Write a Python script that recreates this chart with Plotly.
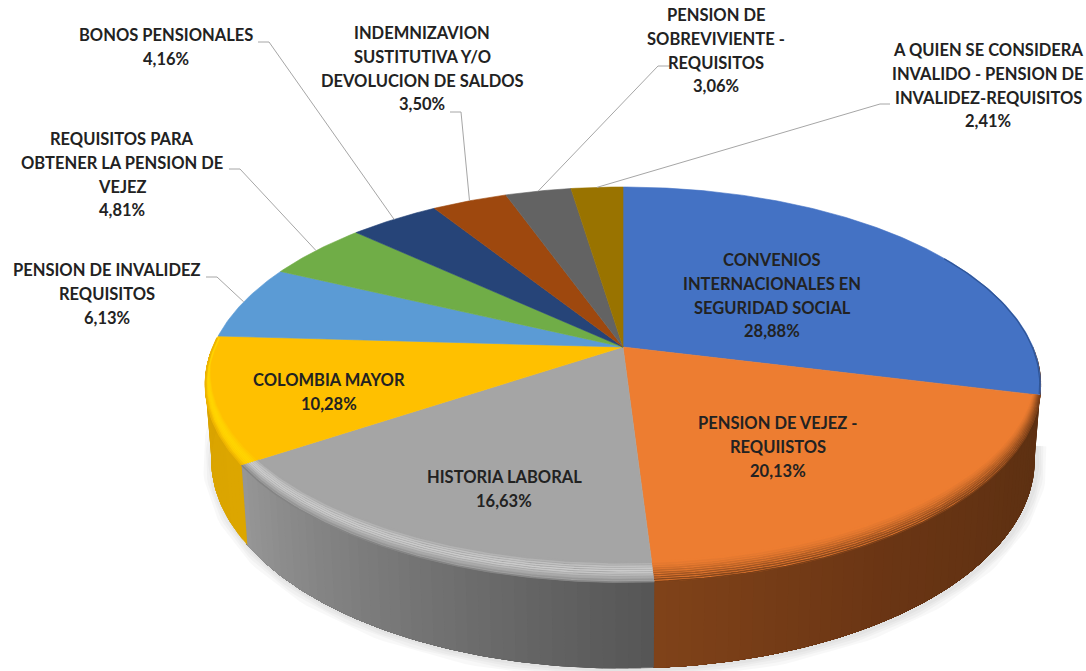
import numpy as np
import plotly.graph_objects as go

# ---- data ----
categories = [
    "CONVENIOS INTERNACIONALES EN SEGURIDAD SOCIAL", "PENSION DE VEJEZ - REQUIISTOS",
    "HISTORIA LABORAL", "COLOMBIA MAYOR", "PENSION DE INVALIDEZ REQUISITOS",
    "REQUISITOS PARA OBTENER LA PENSION DE VEJEZ", "BONOS PENSIONALES",
    "INDEMNIZAVION SUSTITUTIVA Y/O DEVOLUCION DE SALDOS",
    "PENSION DE SOBREVIVIENTE - REQUISITOS",
    "A QUIEN SE CONSIDERA INVALIDO - PENSION DE INVALIDEZ-REQUISITOS",
]
values = [28.88, 20.13, 16.63, 10.28, 6.13, 4.81, 4.16, 3.50, 3.06, 2.41]
label_lines = [
    ["CONVENIOS", "INTERNACIONALES EN", "SEGURIDAD SOCIAL"], ["PENSION DE VEJEZ -", "REQUIISTOS"],
    ["HISTORIA LABORAL"], ["COLOMBIA MAYOR"], ["PENSION DE INVALIDEZ", "REQUISITOS"],
    ["REQUISITOS PARA", "OBTENER LA PENSION DE", "VEJEZ"], ["BONOS PENSIONALES"],
    ["INDEMNIZAVION", "SUSTITUTIVA Y/O", "DEVOLUCION DE SALDOS"],
    ["PENSION DE", "SOBREVIVIENTE -", "REQUISITOS"],
    ["A QUIEN SE CONSIDERA", "INVALIDO - PENSION DE", "INVALIDEZ-REQUISITOS"],
]
colors = ["#4472C4", "#ED7D31", "#A5A5A5", "#FFC000", "#5B9BD5",
          "#70AD47", "#264478", "#9E480E", "#636363", "#997300"]

# ---- layout / style ----
W, H = 1086, 671
CX, CY, R, A, K = 623, 347, 410, 190.4, -0.19
LINE_H = 23.8
FONT = dict(family="Lato", size=16.5, color="#222222", weight="bold")
label_centers = [(772, 260), (778, 423), (504, 477), (329, 380), (107, 270),
                 (122, 139), (166, 35), (422, 33), (716, 15), (988, 50)]
leader_elbows = {4: [(206, 277), (217, 277)], 5: [(229, 169), (240, 169)],
                 6: [(258, 42), (269, 42)], 7: [(450, 112), (461, 112)],
                 8: [(670, 66), (658, 66)], 9: [(890, 104), (880, 104)]}
wall_ramps = {1: ["#5C2F11", "#5F3112", "#6A3514", "#7F4219"],
              2: ["#565656", "#969696"], 3: ["#DCA600", "#D9A300"]}
bevel_stops = {  # colours from the inner edge of the bevel out to the rim
    1: ["#ED7D31", "#DB742E", "#BC6326", "#985020", "#7A3F18"],
    2: ["#A5A5A5", "#C4C4C4", "#CDCDCD", "#AEAEAE", "#848484"],
    3: ["#FFC000", "#FFD000", "#FFD600", "#FFD000", "#EDB400"],
}
BEVEL_DEPTH = 0.07


def project(theta, r=1.0):
    u, v = r * np.sin(theta), -r * np.cos(theta)
    d = 1 + K * v
    return CX + R * u / d, CY + A * v / d


def project_base(theta):
    x, y = project(theta)
    v = -np.cos(theta)
    return CX + (x - CX) * 0.985, y + 72 + 14 * v


def hex_rgb(c):
    return np.array([int(c[i:i + 2], 16) for i in (1, 3, 5)], float)


def mix(a, b, t):
    r = hex_rgb(a) * (1 - t) + hex_rgb(b) * t
    return "rgb(%d,%d,%d)" % tuple(r.round())


def ramp(stops, t):
    p = t * (len(stops) - 1)
    i = min(int(p), len(stops) - 2)
    return mix(stops[i], stops[i + 1], p - i)


total = sum(values)
edges = 2 * np.pi * np.concatenate([[0], np.cumsum(values)]) / total
fig = go.Figure()


def poly(xs, ys, color, name=None):
    fig.add_trace(go.Scatter(x=xs, y=ys, mode="lines", fill="toself", fillcolor=color,
                             line=dict(color=color, width=0.6), hoverinfo="skip",
                             showlegend=False, name=name))


def stroke(xs, ys, color, width):
    fig.add_trace(go.Scatter(x=xs, y=ys, mode="lines", line=dict(color=color, width=width),
                             hoverinfo="skip", showlegend=False))


# soft shadow under the wall
th = np.linspace(edges[1] - 0.12, edges[4] + 0.28, 160)
bx, by = project_base(th)
for w in (22, 16, 11, 6):
    stroke(bx + 2, by + 1, "rgba(0,0,0,0.028)", w)

# side wall: each strip runs to the end of its slice, so later strips paint over earlier ones
for i, stops in wall_ramps.items():
    a0, a1 = edges[i], edges[i + 1]
    if i == 3:
        a1 = np.pi * 1.49
    if i == 1:
        a0 = np.pi * 0.5
    n = max(14, int((a1 - a0) * 40))
    steps = np.linspace(a0, a1, n + 1)
    for j in range(n):
        t = np.linspace(steps[j], a1, max(3, (n - j) * 2))
        tx, ty = project(t)
        ux, uy = project_base(t[::-1])
        poly(np.r_[tx, ux], np.r_[ty, uy], ramp(stops, j / max(n - 1, 1)))

# top face
for i, (val, col) in enumerate(zip(values, colors)):
    t = np.linspace(edges[i], edges[i + 1], max(8, int(val * 6)))
    x, y = project(t)
    poly(np.r_[CX, x, CX], np.r_[CY, y, CY], col, categories[i])

# bevelled rim of the front slices
ROWS = 10
for i, stops in bevel_stops.items():
    t = np.linspace(edges[i], edges[i + 1], 90)
    if i == 3:
        t = np.linspace(edges[i], edges[i + 1] - 0.01, 70)
    for q in range(ROWS):
        f = q / (ROWS - 1)
        v = np.clip(-np.cos(t), 0.09, 1)
        x, y = project(t, 1 - BEVEL_DEPTH * (1 - f) * v)
        stroke(x, y, ramp(stops, f), 1.6)
t = np.linspace(np.pi * 0.33, edges[1] - 0.005, 40)
x, y = project(t, 0.998)
stroke(x, y, "#2F5597", 1.2)

# leader lines
for i, elbows in leader_elbows.items():
    mid = (edges[i] + edges[i + 1]) / 2
    ex, ey = project(mid)
    xs = [p[0] for p in elbows] + [float(ex)]
    ys = [p[1] for p in elbows] + [float(ey)]
    stroke(xs, ys, "#A6A6A6", 1)

# labels
ann = []
for lines, val, (cx, cy) in zip(label_lines, values, label_centers):
    rows = lines + [f"{val:.2f}%".replace(".", ",")]
    for n, text in enumerate(rows):
        ann.append(dict(x=cx, y=cy + n * LINE_H, text=text, showarrow=False, font=FONT,
                        xanchor="center", yanchor="middle", xref="x", yref="y"))

fig.update_layout(
    width=W, height=H, margin=dict(l=0, r=0, t=0, b=0),
    paper_bgcolor="white", plot_bgcolor="white", showlegend=False, annotations=ann,
    xaxis=dict(range=[0, W], visible=False, fixedrange=True),
    yaxis=dict(range=[H, 0], visible=False, fixedrange=True),
)
fig.write_html("out.html", post_script="document.body.style.margin='0';",
               config=dict(displayModeBar=False))
